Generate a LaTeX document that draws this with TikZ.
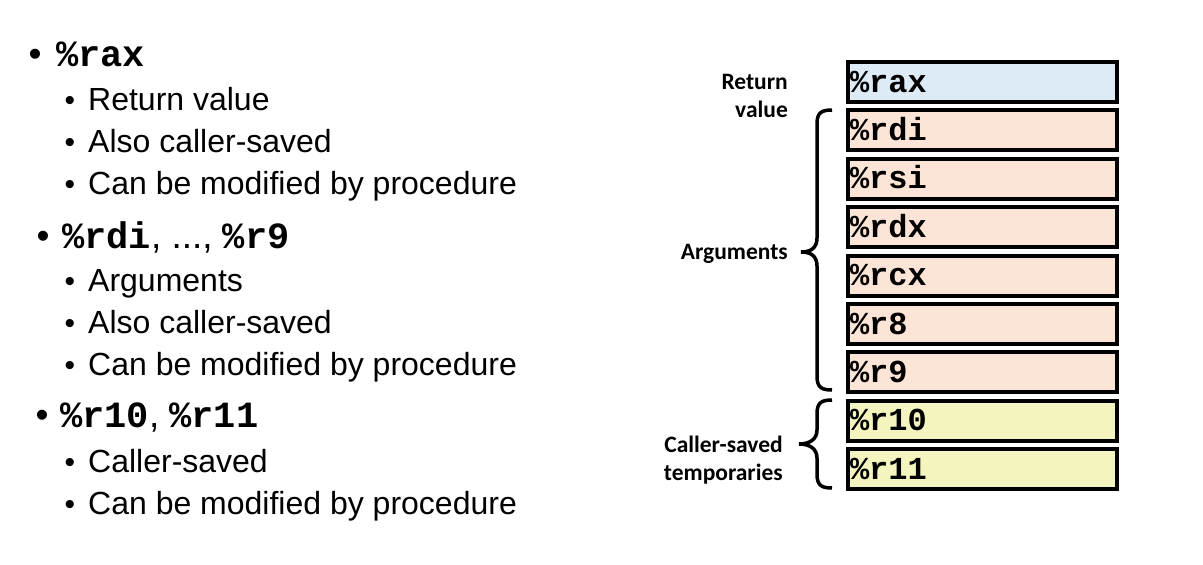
\documentclass[tikz,border=0pt]{standalone}
\usepackage{fontspec}
\setmainfont{Liberation Sans}
\newfontfamily\regmono{Liberation Mono}
\newfontfamily\lblfont{Carlito}
\newcommand{\regtt}[1]{{\regmono\bfseries #1}}
\definecolor{raxfill}{HTML}{DDEBF7}
\definecolor{argfill}{HTML}{FCE4D6}
\definecolor{tmpfill}{HTML}{F4F4BE}
\begin{document}
\begin{tikzpicture}[x=1pt,y=-1pt,
  reg/.style={draw=black, line width=4pt, minimum height=40pt, text width=265pt,
    inner xsep=2pt, inner ysep=0pt, align=left, text height=20pt, text depth=0pt,
    font=\regmono\bfseries\fontsize{32pt}{36pt}\selectfont},
  topitem/.style={anchor=base west, inner sep=0pt, font=\fontsize{37pt}{44pt}\selectfont},
  topbul/.style={anchor=base, inner sep=0pt, font=\fontsize{37pt}{44pt}\selectfont},
  subitem/.style={anchor=base west, inner sep=0pt, font=\fontsize{32pt}{38pt}\selectfont},
  subbul/.style={anchor=base, inner sep=0pt, font=\fontsize{30pt}{36pt}\selectfont},
  lbl/.style={inner sep=0pt, align=right, font=\lblfont\bfseries\fontsize{23.5pt}{28.5pt}\selectfont},
  brace/.style={draw=black, line width=3.5pt}
]
\useasboundingbox (0,0) rectangle (1203,565);

% left list
\node[topbul] (b1) at (35,66) {•};
\node[topitem] (t1) at (56,66) {\regtt{\%rax}};
\node[subbul] (b11) at (70,110.5) {•};
\node[subitem] (s11) at (88,110.5) {Return value};
\node[subbul] (b12) at (70,152.5) {•};
\node[subitem] (s12) at (88,152.5) {Also caller-saved};
\node[subbul] (b13) at (70,194.5) {•};
\node[subitem] (s13) at (88,194.5) {Can be modified by procedure};

\node[topbul] (b2) at (43,248) {•};
\node[topitem] (t2) at (62,248) {\regtt{\%rdi}, ..., \regtt{\%r9}};
\node[subbul] (b21) at (70,291.5) {•};
\node[subitem] (s21) at (88,291.5) {Arguments};
\node[subbul] (b22) at (70,333.5) {•};
\node[subitem] (s22) at (88,333.5) {Also caller-saved};
\node[subbul] (b23) at (70,375.5) {•};
\node[subitem] (s23) at (88,375.5) {Can be modified by procedure};

\node[topbul] (b3) at (42,427) {•};
\node[topitem] (t3) at (60,427) {\regtt{\%r10}, \regtt{\%r11}};
\node[subbul] (b31) at (70,472.5) {•};
\node[subitem] (s31) at (88,472.5) {Caller-saved};
\node[subbul] (b32) at (70,514.5) {•};
\node[subitem] (s32) at (88,514.5) {Can be modified by procedure};

% registers
\node[reg, fill=raxfill] (rax) at (982.5,82) {\%rax};
\node[reg, fill=argfill] (rdi) at (982.5,130.4) {\%rdi};
\node[reg, fill=argfill] (rsi) at (982.5,178.8) {\%rsi};
\node[reg, fill=argfill] (rdx) at (982.5,227.2) {\%rdx};
\node[reg, fill=argfill] (rcx) at (982.5,275.6) {\%rcx};
\node[reg, fill=argfill] (r8) at (982.5,324) {\%r8};
\node[reg, fill=argfill] (r9) at (982.5,372.4) {\%r9};
\node[reg, fill=tmpfill] (r10) at (982.5,420.8) {\%r10};
\node[reg, fill=tmpfill] (r11) at (982.5,469.2) {\%r11};

% labels (base anchor = baseline of the last line)
\node[lbl, anchor=base east] (retlbl) at (788,117.5) {Return\\value};
\node[lbl, anchor=base east] (arglbl) at (788,259.5) {Arguments};
\node[lbl, anchor=base east] (tmplbl) at (783,480.5) {Caller-saved\\temporaries};

% braces
\draw[brace] (832,110) .. controls (821,110) and (817,113) .. (817,124)
  -- (817,238) .. controls (817,247) and (812,252) .. (801,252)
  .. controls (812,252) and (817,257) .. (817,266)
  -- (817,376) .. controls (817,387) and (821,390) .. (832,390);
\draw[brace] (832,400) .. controls (821,400) and (817,403) .. (817,414)
  -- (817,430) .. controls (817,439) and (810,444) .. (799,444)
  .. controls (810,444) and (817,449) .. (817,458)
  -- (817,474) .. controls (817,485) and (821,488) .. (832,488);
\end{tikzpicture}
\end{document}
